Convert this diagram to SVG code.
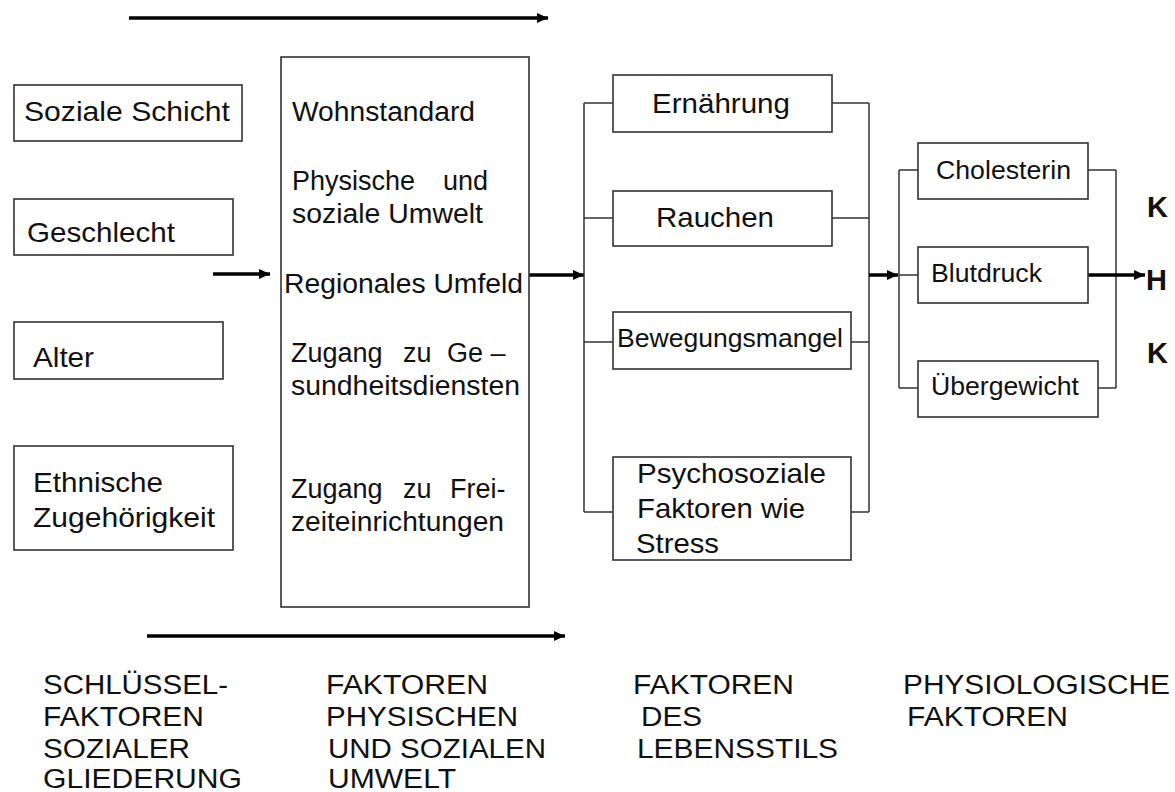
<svg xmlns="http://www.w3.org/2000/svg" width="1175" height="792" viewBox="0 0 1175 792">
<defs>
<marker id="ah" markerUnits="userSpaceOnUse" markerWidth="11" markerHeight="10" refX="11" refY="5" orient="auto">
<path d="M0,0 L11,5 L0,10 z" fill="#000"/>
</marker>
<style>
text{font-family:"Liberation Sans",Arial,sans-serif;fill:#111;font-size:28px}
.m{font-size:27px}
.s{font-size:26px}
.b{font-weight:bold;font-size:29px}
.l{font-size:27px}
rect{fill:#fff;stroke:#333;stroke-width:1.6}
.c line,.c polyline{stroke:#333;stroke-width:1.5;fill:none}
.c .a{stroke:#000;stroke-width:3.5;marker-end:url(#ah)}
</style>
</defs>
<rect x="0" y="0" width="1175" height="792" style="fill:#fff;stroke:none"/>

<g id="connectors" class="c">
<line class="a" x1="129" y1="18" x2="548" y2="18"/>
<line class="a" x1="147" y1="636" x2="565" y2="636"/>
<line class="a" x1="213" y1="274" x2="270" y2="274"/>
<line class="a" x1="529" y1="275" x2="584" y2="275"/>
<line x1="584" y1="103" x2="584" y2="512"/>
<line x1="584" y1="103" x2="613" y2="103"/>
<line x1="584" y1="218" x2="613" y2="218"/>
<line x1="584" y1="342" x2="613" y2="342"/>
<line x1="584" y1="512" x2="613" y2="512"/>
<line x1="869" y1="103" x2="869" y2="512"/>
<line x1="832" y1="103" x2="869" y2="103"/>
<line x1="832" y1="218" x2="869" y2="218"/>
<line x1="851" y1="342" x2="869" y2="342"/>
<line x1="851" y1="512" x2="869" y2="512"/>
<line class="a" x1="869" y1="275" x2="898" y2="275"/>
<line x1="899" y1="170" x2="899" y2="388"/>
<line x1="899" y1="170" x2="918" y2="170"/>
<line x1="899" y1="275" x2="918" y2="275"/>
<line x1="899" y1="388" x2="918" y2="388"/>
<line x1="1116" y1="170" x2="1116" y2="388"/>
<line x1="1088" y1="170" x2="1116" y2="170"/>
<line x1="1098" y1="388" x2="1116" y2="388"/>
<line class="a" x1="1088" y1="275" x2="1145" y2="275"/>
</g>

<g id="soziale-schicht"><rect x="14" y="85" width="228" height="56"/><text x="24" y="121" textLength="206" lengthAdjust="spacingAndGlyphs">Soziale Schicht</text></g>
<g id="geschlecht"><rect x="14" y="199" width="219" height="56"/><text x="27" y="242" textLength="148" lengthAdjust="spacingAndGlyphs">Geschlecht</text></g>
<g id="alter"><rect x="14" y="322" width="209" height="57"/><text x="33" y="367" textLength="61" lengthAdjust="spacingAndGlyphs">Alter</text></g>
<g id="ethnische"><rect x="14" y="446" width="219" height="104"/><text x="33" y="492" textLength="130" lengthAdjust="spacingAndGlyphs">Ethnische</text><text x="33" y="527" textLength="182" lengthAdjust="spacingAndGlyphs">Zugehörigkeit</text></g>

<g id="umwelt">
<rect x="281" y="57" width="248" height="550"/>
<text class="m" x="292" y="121" textLength="183" lengthAdjust="spacingAndGlyphs">Wohnstandard</text>
<text class="m" y="190"><tspan x="292">Physische</tspan><tspan x="443">und</tspan></text>
<text class="m" x="292" y="223" textLength="191" lengthAdjust="spacingAndGlyphs">soziale Umwelt</text>
<text class="m" x="284" y="293" textLength="239" lengthAdjust="spacingAndGlyphs">Regionales Umfeld</text>
<text class="m" y="362"><tspan x="291">Zugang</tspan><tspan x="403">zu</tspan><tspan x="447">Ge –</tspan></text>
<text class="m" x="291" y="395" textLength="229" lengthAdjust="spacingAndGlyphs">sundheitsdiensten</text>
<text class="m" y="498"><tspan x="291">Zugang</tspan><tspan x="403">zu</tspan><tspan x="450">Frei-</tspan></text>
<text class="m" x="291" y="531" textLength="213" lengthAdjust="spacingAndGlyphs">zeiteinrichtungen</text>
</g>

<g id="ernaehrung"><rect x="613" y="75" width="219" height="57"/><text x="652" y="113" textLength="138" lengthAdjust="spacingAndGlyphs">Ernährung</text></g>
<g id="rauchen"><rect x="613" y="191" width="219" height="55"/><text x="656" y="227" textLength="118" lengthAdjust="spacingAndGlyphs">Rauchen</text></g>
<g id="bewegungsmangel"><rect x="613" y="312" width="238" height="57"/><text class="s" x="617" y="347" textLength="226" lengthAdjust="spacingAndGlyphs">Bewegungsmangel</text></g>
<g id="psychosoziale"><rect x="613" y="457" width="238" height="103"/><text x="637" y="483" textLength="189" lengthAdjust="spacingAndGlyphs">Psychosoziale</text><text x="637" y="518" textLength="168" lengthAdjust="spacingAndGlyphs">Faktoren wie</text><text x="636" y="553" textLength="83" lengthAdjust="spacingAndGlyphs">Stress</text></g>

<g id="cholesterin"><rect x="918" y="143" width="170" height="56"/><text class="s" x="936" y="179" textLength="135" lengthAdjust="spacingAndGlyphs">Cholesterin</text></g>
<g id="blutdruck"><rect x="918" y="247" width="170" height="56"/><text class="s" x="931" y="282" textLength="111" lengthAdjust="spacingAndGlyphs">Blutdruck</text></g>
<g id="uebergewicht"><rect x="918" y="361" width="180" height="56"/><text class="s" x="931" y="395" textLength="148" lengthAdjust="spacingAndGlyphs">Übergewicht</text></g>

<g id="khk"><text class="b" x="1147" y="217">K</text><text class="b" x="1146" y="290">H</text><text class="b" x="1147" y="363">K</text></g>

<g id="label-sozial">
<text class="l" x="43" y="694" textLength="185" lengthAdjust="spacingAndGlyphs">SCHLÜSSEL-</text>
<text class="l" x="43" y="726" textLength="161" lengthAdjust="spacingAndGlyphs">FAKTOREN</text>
<text class="l" x="43" y="758" textLength="147" lengthAdjust="spacingAndGlyphs">SOZIALER</text>
<text class="l" x="43" y="788" textLength="199" lengthAdjust="spacingAndGlyphs">GLIEDERUNG</text>
</g>
<g id="label-umwelt">
<text class="l" x="326" y="694" textLength="162" lengthAdjust="spacingAndGlyphs">FAKTOREN</text>
<text class="l" x="326" y="726" textLength="192" lengthAdjust="spacingAndGlyphs">PHYSISCHEN</text>
<text class="l" x="328" y="758" textLength="218" lengthAdjust="spacingAndGlyphs">UND SOZIALEN</text>
<text class="l" x="328" y="788" textLength="128" lengthAdjust="spacingAndGlyphs">UMWELT</text>
</g>
<g id="label-lebensstil">
<text class="l" x="633" y="694" textLength="161" lengthAdjust="spacingAndGlyphs">FAKTOREN</text>
<text class="l" x="641" y="726" textLength="61" lengthAdjust="spacingAndGlyphs">DES</text>
<text class="l" x="637" y="758" textLength="201" lengthAdjust="spacingAndGlyphs">LEBENSSTILS</text>
</g>
<g id="label-physio">
<text class="l" x="903" y="694" textLength="267" lengthAdjust="spacingAndGlyphs">PHYSIOLOGISCHE</text>
<text class="l" x="907" y="726" textLength="161" lengthAdjust="spacingAndGlyphs">FAKTOREN</text>
</g>
</svg>
